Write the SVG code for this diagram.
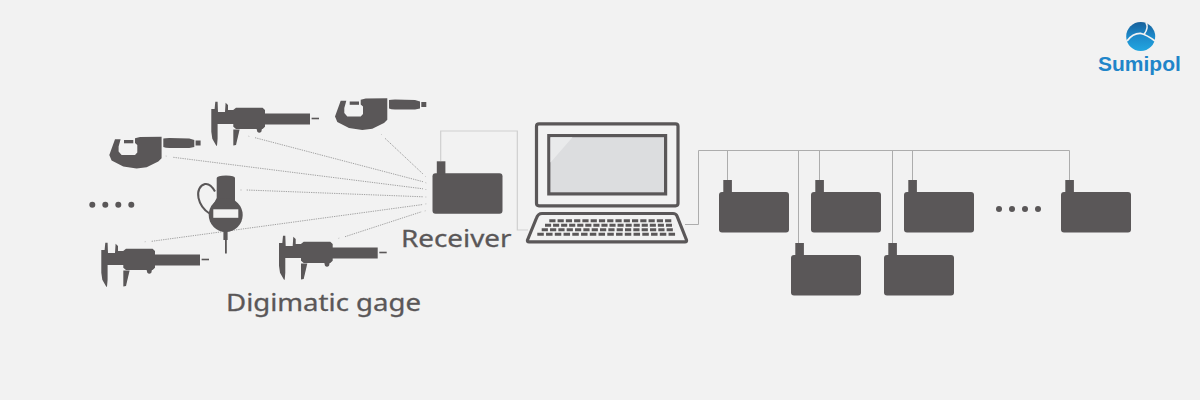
<svg xmlns="http://www.w3.org/2000/svg" width="1200" height="400" viewBox="0 0 1200 400">
<style>
.d{fill:#5a5758}
.cl{fill:none;stroke:#adadad;stroke-width:1}
.cl2{fill:none;stroke:#cfcfcf;stroke-width:1.2}
.dot{fill:none;stroke:#a2a2a2;stroke-width:1;stroke-dasharray:1.3 1}
.tick{fill:none;stroke:#d0d0d0;stroke-width:1}
.lap{fill:none;stroke:#5a5758;stroke-width:3.2;stroke-linejoin:round}
.key{fill:none;stroke:#5a5758;stroke-width:3}
.t{font-family:"Noto Sans","Open Sans",sans-serif;fill:#5a5758;stroke:#5a5758;stroke-width:.3;font-size:24px}
</style>
<defs>
<linearGradient id="globe" x1="0" y1="0" x2="0" y2="1"><stop offset="0" stop-color="#17609a"/><stop offset=".5" stop-color="#1d8acb"/><stop offset="1" stop-color="#22a6e0"/></linearGradient>
<g id="box"><rect x="0" y="12" width="70" height="40.500" rx="3" class="d"/><rect x="4.300" y="0" width="8.600" height="13" class="d"/></g>
<g id="caliper" class="d">
<path d="M0 7.300H3.300L4 0H6.300L6.700 10.300H13.700L14.300 1L16.700 3.300V8.300H21.900V8.300L24.700 6H51.300L53.700 8.300V11.700H98.700V22.700H53.700V25L51.300 27.300H24.700L22 25V22.300H6.300V37L5.700 44H5L1 37L0 30Z"/>
<path d="M22 27.700H28.300L24.700 43.300L22 43.700Z"/>
<path d="M45.300 27H50.700L50 30Q48 32 46 30Z"/>
<rect x="100.300" y="16" width="7.400" height="1.600"/>
</g>
<g id="micrometer" class="d">
<path d="M5.700 2.800H11.300L10.700 5L9.300 10V15L12.300 18.500H25.700L28 16V8.500L25.700 6.500V1.800L30.700 .5L52.300 .2V21.800L49 25L37.300 30.800L27.300 32L14 30L2.300 24L0 18.500Z"/>
<rect x="14.700" y="3.500" width="9.300" height="3.300"/>
<path d="M54 2Q56 1.500 60 1.500L80 2L85 3.500V10.500L80 11.500H60Q56 11.500 54 10.500Z"/>
<rect x="86.300" y="4" width="5" height="5"/>
</g>
</defs>
<rect width="1200" height="400" fill="#f2f2f2"/>

<g id="connectors">
<path class="cl2" d="M440.700 161V131H517.300V230H528"/>
<path class="cl" d="M685 224.500H698.500V150.500H1069.500V180M727.500 150.500V180M798.500 150.500V243M819.500 150.500V180M892.500 150.500V243M912.500 150.500V180"/>
<path class="dot" d="M385 138.300L423 174M255 137.700L423 181.700M173.300 157.300L423 188.800M246.700 190L423 196.800M151.700 241.300L423 204.500M345 236.700L421.700 211.700"/>
<path class="tick" d="M381 134l1 1M248 136l1.500 .5M165.500 156l1.500 .2M240 190h2M144.500 241.800l1.500 -.2M338 238.500l1.500 -.5M425 176l1 1M425 182.500l1.500 .5M425 189.500h1.500M425 197h1.500M425 204l1.500 -.2M424.500 211l1.500 -.3"/>
</g>

<g id="caliper-1"><use href="#caliper" x="211.300" y="101.700"/></g>
<g id="micrometer-1"><use href="#micrometer" x="109.300" y="136.500"/></g>
<g id="micrometer-2"><use href="#micrometer" x="335" y="98"/></g>
<g id="caliper-2"><use href="#caliper" x="101.300" y="242.700"/></g>
<g id="caliper-3"><use href="#caliper" x="279" y="235.700"/></g>

<g id="gauge">
<path class="d" d="M216.700 178Q217 175.500 226 175.500Q235 175.500 235 178V202L238 204H213.500L216.700 198Z"/>
<circle class="d" cx="225.700" cy="215" r="17"/>
<rect x="213.300" y="209.300" width="25" height="8.500" fill="#f2f2f2"/>
<rect class="d" x="223.400" y="230" width="4.200" height="10"/>
<rect class="d" x="225" y="239" width="1.800" height="14.500"/>
<path d="M215 191.500C212 186 208 183.500 205 184C200 185 197 191 198.500 198C200 205 204 210 209.500 213.500" fill="none" stroke="#5a5758" stroke-width="2"/>
</g>

<g id="dots-left" class="d"><circle cx="92.300" cy="204.700" r="3"/><circle cx="105.300" cy="204.700" r="3"/><circle cx="118.300" cy="204.700" r="3"/><circle cx="131.300" cy="204.700" r="3"/></g>
<g id="dots-right" class="d"><circle cx="999" cy="209" r="3"/><circle cx="1012" cy="209" r="3"/><circle cx="1025" cy="209" r="3"/><circle cx="1038" cy="209" r="3"/></g>

<g id="receiver"><use href="#box" x="432.500" y="161.300"/><text class="t" x="401" y="246.700" textLength="110.500" lengthAdjust="spacingAndGlyphs">Receiver</text></g>
<text id="gage-label" class="t" x="226" y="311" textLength="195" lengthAdjust="spacingAndGlyphs">Digimatic gage</text>

<g id="laptop">
<rect class="lap" x="536.500" y="123.800" width="141.500" height="82" rx="2.500"/>
<rect x="548.800" y="135.600" width="116.800" height="58.300" fill="#dcdddf" stroke="#5a5758" stroke-width="3.200"/>
<path d="M550.500 137.300H572.500L550.500 162.500Z" fill="#e9eaeb"/>
<path class="lap" d="M542 213.500H673Q676 213.500 677 216L686.500 240Q687 241.900 685 241.900H529Q527 241.900 527.500 240L536.500 218Q538 213.500 542 213.500Z"/>
<path class="key" d="M549.300 220.700H673.300" stroke-dasharray="6.200 2.070"/>
<path class="key" d="M545 225.300H674" stroke-dasharray="6.100 1.960"/>
<path class="key" d="M541.700 229.700H675" stroke-dasharray="6.200 2.130"/>
<path class="key" d="M537.300 234.300H677.300" stroke-dasharray="6.500 2.250"/>
</g>

<g id="device-1"><use href="#box" x="719" y="180"/></g>
<g id="device-2"><use href="#box" x="811" y="180"/></g>
<g id="device-3"><use href="#box" x="904" y="180"/></g>
<g id="device-4"><use href="#box" x="1061" y="180"/></g>
<g id="device-5"><use href="#box" x="791" y="243"/></g>
<g id="device-6"><use href="#box" x="884" y="243"/></g>

<g id="logo">
<circle cx="1140.700" cy="36.500" r="14.500" fill="url(#globe)"/>
<path d="M1127 41Q1133 33 1141 33.500Q1147 35 1155 41" fill="none" stroke="#f2f2f2" stroke-width="1.800"/>
<path d="M1144 34.500Q1149 28 1146 22.500" fill="none" stroke="#f2f2f2" stroke-width="1.600"/>
<text x="1098" y="70.500" font-family="Liberation Sans, Arial, sans-serif" font-weight="700" font-size="21" fill="#1f85c9">Sumipol</text>
</g>
</svg>
